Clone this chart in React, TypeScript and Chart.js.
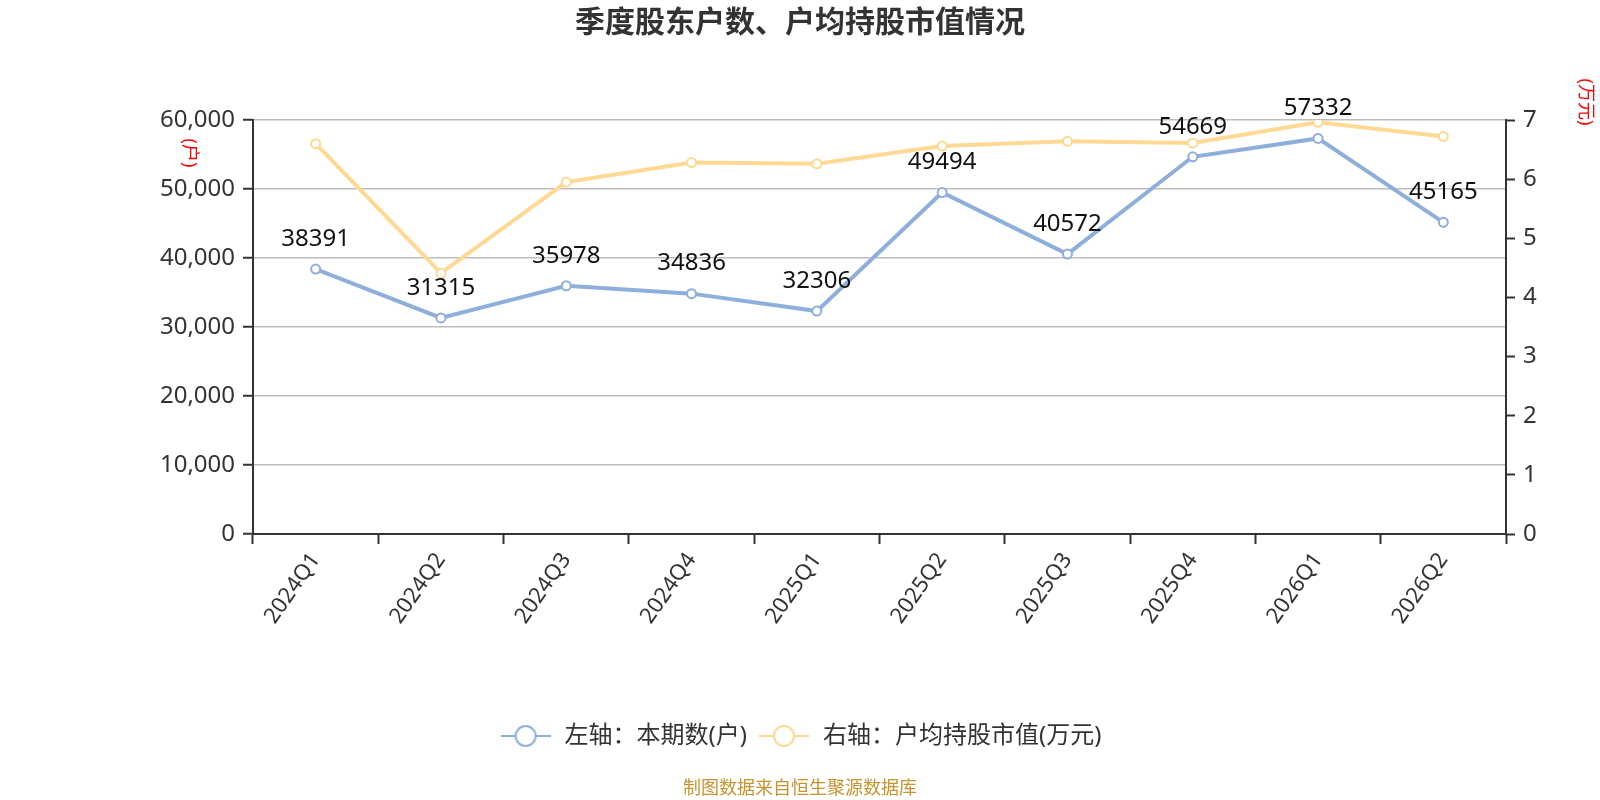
import React, { useRef, useEffect } from "react";
import { Chart, registerables } from "chart.js";

Chart.register(...registerables);

const quarters = [
  "2024Q1", "2024Q2", "2024Q3", "2024Q4", "2025Q1",
  "2025Q2", "2025Q3", "2025Q4", "2026Q1", "2026Q2",
];
const holders = [38391, 31315, 35978, 34836, 32306, 49494, 40572, 54669, 57332, 45165];
const avgValue = [6.6, 4.41, 5.95, 6.28, 6.26, 6.56, 6.64, 6.61, 6.96, 6.72];
const leftTicks = [0, 10000, 20000, 30000, 40000, 50000, 60000];
const rightTicks = [0, 1, 2, 3, 4, 5, 6, 7];

const FONT = '"Noto Sans", "Noto Sans CJK SC", sans-serif';
const BLUE = "#8eafdc";
const YELLOW = "#ffd993";
const AXIS = "#333";

// little line + hollow circle used as legend marker
function legendIcon(color: string) {
  const c = document.createElement("canvas");
  c.width = 50;
  c.height = 26;
  const g = c.getContext("2d")!;
  g.strokeStyle = color;
  g.lineWidth = 2;
  g.beginPath();
  g.moveTo(0, 13);
  g.lineTo(50, 13);
  g.stroke();
  g.beginPath();
  g.arc(25, 13, 10, 0, Math.PI * 2);
  g.fillStyle = "#fff";
  g.fill();
  g.stroke();
  return c;
}

const decor = {
  id: "decor",
  afterDraw(chart: any) {
    const ctx = chart.ctx;
    ctx.save();
    // title
    ctx.fillStyle = "#333";
    ctx.font = `bold 30px ${FONT}`;
    ctx.textAlign = "center";
    ctx.textBaseline = "middle";
    ctx.fillText("季度股东户数、户均持股市值情况", 800, 23);

    // footer
    ctx.fillStyle = "#c8922e";
    ctx.font = `18px ${FONT}`;
    ctx.fillText("制图数据来自恒生聚源数据库", 800, 789);

    // unit labels, rotated
    ctx.fillStyle = "#ff0000";
    ctx.font = `18px ${FONT}`;
    ctx.save();
    ctx.translate(189, 153);
    ctx.rotate(Math.PI / 2);
    ctx.fillText("(户)", 0, 0);
    ctx.restore();
    ctx.save();
    ctx.translate(1585, 102);
    ctx.rotate(Math.PI / 2);
    ctx.fillText("(万元)", 0, 0);
    ctx.restore();

    // value labels on the holders line
    ctx.fillStyle = "#111";
    ctx.font = `24px ${FONT}`;
    const meta = chart.getDatasetMeta(0);
    meta.data.forEach((pt: any, i: number) => {
      ctx.fillText(String(holders[i]), pt.x, pt.y - 30);
    });
    ctx.restore();
  },
};

const App = () => {
  const canvasRef = useRef<HTMLCanvasElement>(null);
  const chartRef = useRef<Chart | null>(null);

  useEffect(() => {
    document.body.style.margin = "0";
    const canvas = canvasRef.current;
    if (!canvas) return;
    if (chartRef.current) chartRef.current.destroy();

    const icons = [legendIcon(BLUE), legendIcon(YELLOW)];
    const tickFont = { family: FONT, size: 24 };

    chartRef.current = new Chart(canvas, {
      type: "line",
      data: {
        labels: quarters,
        datasets: [
          {
            label: "左轴：本期数(户)",
            data: holders,
            yAxisID: "y",
            borderColor: BLUE,
            backgroundColor: "#fff",
            borderWidth: 4,
            pointRadius: 4.5,
            pointBorderWidth: 2,
            pointBackgroundColor: "#fff",
            pointBorderColor: BLUE,
            tension: 0,
          },
          {
            label: "右轴：户均持股市值(万元)",
            data: avgValue,
            yAxisID: "y1",
            borderColor: YELLOW,
            backgroundColor: "#fff",
            borderWidth: 4,
            pointRadius: 4.5,
            pointBorderWidth: 2,
            pointBackgroundColor: "#fff",
            pointBorderColor: YELLOW,
            tension: 0,
          },
        ],
      },
      options: {
        responsive: false,
        animation: false,
        layout: { padding: { top: 120, left: 0, right: 0, bottom: 42 } },
        plugins: {
          title: { display: false },
          tooltip: { enabled: false },
          legend: {
            display: true,
            position: "bottom",
            labels: {
              usePointStyle: true,
              pointStyleWidth: 54,
              boxHeight: 24,
              padding: 10,
              color: "#333",
              font: tickFont,
              generateLabels: (chart: any) =>
                Chart.defaults.plugins.legend.labels
                  .generateLabels(chart)
                  .map((item: any, i: number) => ({ ...item, pointStyle: icons[i] })),
            },
          },
        },
        scales: {
          x: {
            offset: true,
            grid: {
              offset: true,
              drawOnChartArea: false,
              tickLength: 10,
              tickColor: AXIS,
              tickWidth: 2,
              color: AXIS,
            },
            border: { color: AXIS, width: 2 },
            ticks: {
              minRotation: 55,
              maxRotation: 55,
              autoSkip: false,
              color: "#333",
              font: { family: FONT, size: 22 },
              padding: 4,
            },
            afterFit: (s: any) => {
              s.height = 180;
            },
          },
          y: {
            position: "left",
            min: 0,
            max: 60000,
            afterBuildTicks: (s: any) => {
              s.ticks = leftTicks.map((v) => ({ value: v }));
            },
            ticks: {
              color: "#333",
              font: tickFont,
              padding: 8,
              callback: (v: any) => Number(v).toLocaleString("en-US"),
            },
            grid: { color: "#bdbdbd", lineWidth: 1.5, tickColor: AXIS, tickLength: 10, tickWidth: 2 },
            border: { color: AXIS, width: 2 },
            afterFit: (s: any) => {
              s.width = 253;
            },
          },
          y1: {
            position: "right",
            min: 0,
            max: 7,
            afterBuildTicks: (s: any) => {
              s.ticks = rightTicks.map((v) => ({ value: v }));
            },
            ticks: { color: "#333", font: tickFont, padding: 8 },
            grid: { drawOnChartArea: false, tickColor: AXIS, tickLength: 9, tickWidth: 2 },
            border: { color: AXIS, width: 2 },
            afterFit: (s: any) => {
              s.width = 94;
            },
          },
        },
      },
      plugins: [decor],
    } as any);

    return () => {
      chartRef.current?.destroy();
      chartRef.current = null;
    };
  }, []);

  return (
    <div style={{ width: 1600, height: 800, background: "#fff" }}>
      <canvas ref={canvasRef} width={1600} height={800} style={{ width: 1600, height: 800 }} />
    </div>
  );
};

export default App;
